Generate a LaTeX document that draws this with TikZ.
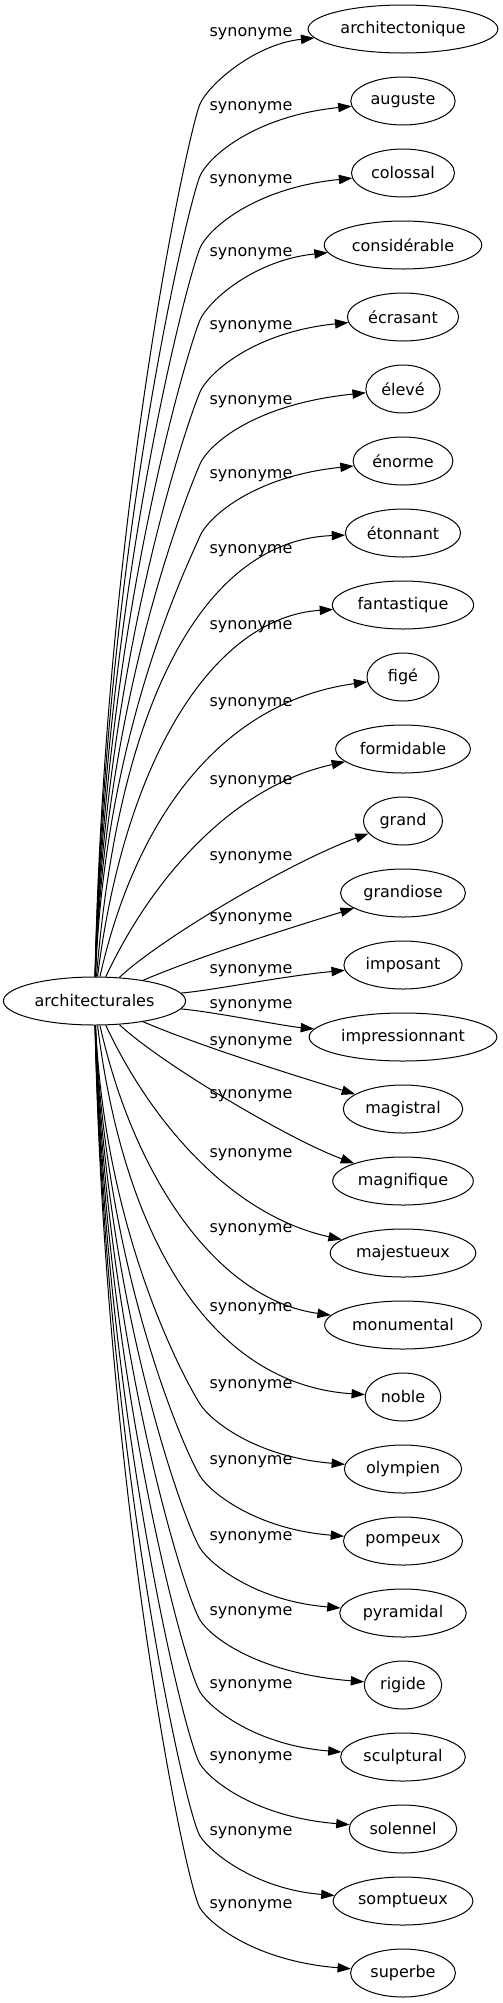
\documentclass[tikz,border=0pt]{standalone}
\usepackage{fontspec}
\setmainfont{DejaVu Sans}
\usetikzlibrary{shapes.geometric,arrows.meta}

\begin{document}
\begin{tikzpicture}[x=0.75pt,y=-0.75pt,
  word/.style={draw, ellipse, line width=0.75pt, inner xsep=3.4pt, inner ysep=2pt,
    minimum width=54pt, minimum height=36pt, font=\fontsize{12pt}{14pt}\selectfont},
  syn/.style={inner sep=0pt, font=\fontsize{12pt}{14pt}\selectfont},
  rel/.style={line width=0.75pt, -{Triangle[length=10pt,width=7pt]}}]
  \useasboundingbox (0,0) rectangle (503,2003);
  % the word and its synonyms
  \node[word] (hub) at (94.5,1001) {architecturales};
  \node[word] (architectonique) at (403,29) {architectonique};
  \node[word] (auguste) at (403,101) {auguste};
  \node[word] (colossal) at (403,173) {colossal};
  \node[word] (considerable) at (403,245) {considérable};
  \node[word] (ecrasant) at (403,317) {écrasant};
  \node[word] (eleve) at (403,389) {élevé};
  \node[word] (enorme) at (403,461) {énorme};
  \node[word] (etonnant) at (403,533) {étonnant};
  \node[word] (fantastique) at (403,605) {fantastique};
  \node[word] (fige) at (403,677) {figé};
  \node[word] (formidable) at (403,749) {formidable};
  \node[word] (grand) at (403,821) {grand};
  \node[word] (grandiose) at (403,893) {grandiose};
  \node[word] (imposant) at (403,965) {imposant};
  \node[word] (impressionnant) at (403,1037) {impressionnant};
  \node[word] (magistral) at (403,1109) {magistral};
  \node[word] (magnifique) at (403,1181) {magnifique};
  \node[word] (majestueux) at (403,1253) {majestueux};
  \node[word] (monumental) at (403,1325) {monumental};
  \node[word] (noble) at (403,1397) {noble};
  \node[word] (olympien) at (403,1469) {olympien};
  \node[word] (pompeux) at (403,1541) {pompeux};
  \node[word] (pyramidal) at (403,1613) {pyramidal};
  \node[word] (rigide) at (403,1685) {rigide};
  \node[word] (sculptural) at (403,1757) {sculptural};
  \node[word] (solennel) at (403,1829) {solennel};
  \node[word] (somptueux) at (403,1901) {somptueux};
  \node[word] (superbe) at (403,1973) {superbe};
  % edge labels
  \node[syn] (s1) at (251,34) {synonyme};
  \node[syn] (s2) at (251,108) {synonyme};
  \node[syn] (s3) at (251,181) {synonyme};
  \node[syn] (s4) at (251,254) {synonyme};
  \node[syn] (s5) at (251,327) {synonyme};
  \node[syn] (s6) at (251,402) {synonyme};
  \node[syn] (s7) at (251,476) {synonyme};
  \node[syn] (s8) at (251,551) {synonyme};
  \node[syn] (s9) at (251,627) {synonyme};
  \node[syn] (s10) at (251,704) {synonyme};
  \node[syn] (s11) at (251,782) {synonyme};
  \node[syn] (s12) at (251,858) {synonyme};
  \node[syn] (s13) at (251,919) {synonyme};
  \node[syn] (s14) at (251,971) {synonyme};
  \node[syn] (s15) at (251,1006) {synonyme};
  \node[syn] (s16) at (251,1043) {synonyme};
  \node[syn] (s17) at (251,1096) {synonyme};
  \node[syn] (s18) at (251,1155) {synonyme};
  \node[syn] (s19) at (251,1230) {synonyme};
  \node[syn] (s20) at (251,1309) {synonyme};
  \node[syn] (s21) at (251,1386) {synonyme};
  \node[syn] (s22) at (251,1462) {synonyme};
  \node[syn] (s23) at (251,1538) {synonyme};
  \node[syn] (s24) at (251,1613) {synonyme};
  \node[syn] (s25) at (251,1686) {synonyme};
  \node[syn] (s26) at (251,1758) {synonyme};
  \node[syn] (s27) at (251,1833) {synonyme};
  \node[syn] (s28) at (251,1906) {synonyme};
  % edges, the long ones bend at a knee left of their label
  \draw[rel] (hub) .. controls (105,515) and (188,132) .. (200,104) .. controls (209,84) and (255,44) .. (architectonique);
  \draw[rel] (hub) .. controls (105,551) and (188,204) .. (200,176) .. controls (209,156) and (255,116) .. (auguste);
  \draw[rel] (hub) .. controls (105,587) and (188,276) .. (200,248) .. controls (209,228) and (255,188) .. (colossal);
  \draw[rel] (hub) .. controls (105,623) and (188,348) .. (200,320) .. controls (209,300) and (255,260) .. (considerable);
  \draw[rel] (hub) .. controls (105,659) and (188,420) .. (200,392) .. controls (209,372) and (255,332) .. (ecrasant);
  \draw[rel] (hub) .. controls (105,695) and (188,492) .. (200,464) .. controls (209,444) and (255,404) .. (eleve);
  \draw[rel] (hub) .. controls (105,731) and (188,564) .. (200,536) .. controls (209,516) and (255,476) .. (enorme);
  \draw[rel] (hub) .. controls (120,688) and (210,540) .. (etonnant);
  \draw[rel] (hub) .. controls (125,756) and (215,617) .. (fantastique);
  \draw[rel] (hub) .. controls (135,820) and (220,702) .. (fige);
  \draw[rel] (hub) .. controls (150,882) and (230,787) .. (formidable);
  \draw[rel] (hub) .. controls (160,939) and (290,862) .. (grand);
  \draw[rel] (hub) .. controls (200,956) and (290,928) .. (grandiose);
  \draw[rel] (hub) .. controls (215,990) and (283,976) .. (imposant);
  \draw[rel] (hub) .. controls (215,1012) and (283,1026) .. (impressionnant);
  \draw[rel] (hub) .. controls (200,1046) and (290,1074) .. (magistral);
  \draw[rel] (hub) .. controls (160,1063) and (290,1140) .. (magnifique);
  \draw[rel] (hub) .. controls (150,1120) and (230,1215) .. (majestueux);
  \draw[rel] (hub) .. controls (135,1182) and (220,1300) .. (monumental);
  \draw[rel] (hub) .. controls (125,1246) and (215,1385) .. (noble);
  \draw[rel] (hub) .. controls (105,1235) and (185,1380) .. (200,1404) .. controls (210,1420) and (255,1457) .. (olympien);
  \draw[rel] (hub) .. controls (105,1271) and (185,1452) .. (200,1476) .. controls (210,1492) and (255,1529) .. (pompeux);
  \draw[rel] (hub) .. controls (105,1307) and (185,1524) .. (200,1548) .. controls (210,1564) and (255,1601) .. (pyramidal);
  \draw[rel] (hub) .. controls (105,1343) and (185,1596) .. (200,1620) .. controls (210,1636) and (255,1673) .. (rigide);
  \draw[rel] (hub) .. controls (105,1379) and (185,1668) .. (200,1692) .. controls (210,1708) and (255,1745) .. (sculptural);
  \draw[rel] (hub) .. controls (105,1415) and (185,1740) .. (200,1764) .. controls (210,1780) and (255,1817) .. (solennel);
  \draw[rel] (hub) .. controls (105,1451) and (185,1812) .. (200,1836) .. controls (210,1852) and (255,1889) .. (somptueux);
  \draw[rel] (hub) .. controls (105,1487) and (185,1884) .. (200,1908) .. controls (210,1924) and (255,1961) .. (superbe);
\end{tikzpicture}
\end{document}
